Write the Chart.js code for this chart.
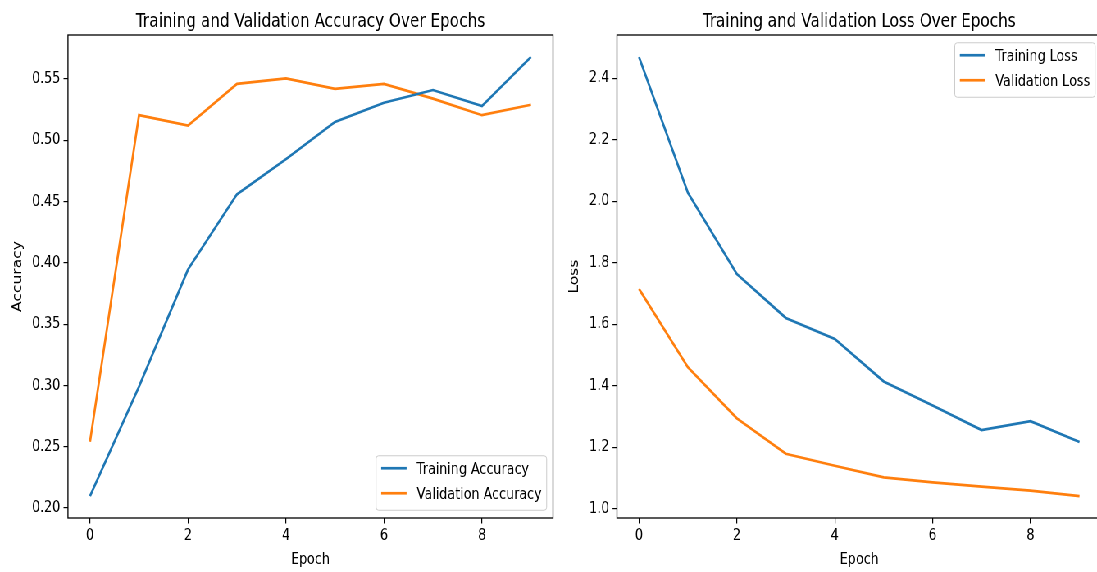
<!DOCTYPE html>
<html>
<head>
<meta charset="utf-8">
<title>Training curves</title>
<script src="https://cdn.jsdelivr.net/npm/chart.js@4.4.0/dist/chart.umd.min.js"></script>
<style>
  html, body { margin: 0; padding: 0; background: #fff; overflow: hidden; width: 1097px; height: 572px; }
  /* the figure is laid out wide and squeezed horizontally to its final width */
  #stage { position: absolute; left: 0; top: 0; width: 1338px; height: 572px;
           transform-origin: 0 0; transform: scaleX(0.81988); }
  #stage canvas { position: absolute; top: 0; }
</style>
</head>
<body>
<div id="stage">
  <canvas id="accChart" width="690" height="572" style="left:0;width:690px;height:572px"></canvas>
  <canvas id="lossChart" width="670" height="572" style="left:690px;width:670px;height:572px"></canvas>
</div>
<script>
// ---- data ----
const epochs = [0, 1, 2, 3, 4, 5, 6, 7, 8, 9];
const trainAccuracy = [0.2098, 0.299, 0.3946, 0.456, 0.4846, 0.515, 0.5306, 0.541, 0.528, 0.568];
const valAccuracy   = [0.254, 0.5205, 0.512, 0.546, 0.5505, 0.542, 0.546, 0.534, 0.5205, 0.529];
const trainLoss = [2.469, 2.027, 1.763, 1.6205, 1.552, 1.414, 1.336, 1.256, 1.285, 1.217];
const valLoss   = [1.715, 1.460, 1.294, 1.179, 1.140, 1.102, 1.086, 1.072, 1.059, 1.0415];
const epochTicks = [0, 2, 4, 6, 8];
const accuracyTicks = [0.20, 0.25, 0.30, 0.35, 0.40, 0.45, 0.50, 0.55];
const lossTicks = [1.0, 1.2, 1.4, 1.6, 1.8, 2.0, 2.2, 2.4];

// ---- styling ----
const BLUE = '#1f77b4';
const ORANGE = '#ff7f0e';
const FS = 15.5;          // tick / label / legend size
const TITLE_FS = 18.6;
const LINE_W = 2.7;
const FAMILY = "'DejaVu Sans', 'Liberation Sans', sans-serif";
Chart.defaults.font.family = FAMILY;
Chart.defaults.color = '#000';

function toPoints(ys) { return epochs.map((e, i) => ({ x: e, y: ys[i] })); }
function paddedRange(arrays) {
  const all = [].concat(...arrays);
  const lo = Math.min(...all), hi = Math.max(...all);
  const m = (hi - lo) * 0.05;
  return [lo - m, hi + m];
}
function fixedTicks(values) {
  return scale => { scale.ticks = values.map(v => ({ value: v })); };
}

// frame, panel title and legend box drawn on top of the plot
const panelDecor = {
  id: 'panelDecor',
  afterDraw(chart, args, opts) {
    const { ctx, chartArea: a } = chart;
    ctx.save();
    // axes frame
    ctx.strokeStyle = '#000';
    ctx.lineWidth = 1.3;
    ctx.strokeRect(a.left, a.top, a.right - a.left, a.bottom - a.top);
    // title centred over the plot area
    ctx.fillStyle = '#000';
    ctx.font = `${TITLE_FS}px ${FAMILY}`;
    ctx.textAlign = 'center';
    ctx.textBaseline = 'alphabetic';
    ctx.fillText(opts.title, (a.left + a.right) / 2, 27);
    // legend
    ctx.font = `${FS}px ${FAMILY}`;
    ctx.textAlign = 'left';
    const sets = chart.data.datasets;
    const pad = 6.2, handleLen = 31, textPad = 12.4, gap = 0.5 * FS;
    const textW = Math.max(...sets.map(d => ctx.measureText(d.label).width));
    const w = pad + handleLen + textPad + textW + pad;
    const h = 54.5;
    const right = a.right - gap;
    const left = right - w;
    const top = opts.legendAt === 'lower right' ? a.bottom - gap - h : a.top + gap;
    ctx.beginPath();
    ctx.roundRect(left, top, w, h, 3.1);
    ctx.fillStyle = 'rgba(255,255,255,0.8)';
    ctx.fill();
    ctx.strokeStyle = '#cccccc';
    ctx.lineWidth = 1;
    ctx.stroke();
    sets.forEach((d, i) => {
      const cy = top + 12.5 + i * 25;
      ctx.beginPath();
      ctx.moveTo(left + pad, cy);
      ctx.lineTo(left + pad + handleLen, cy);
      ctx.strokeStyle = d.borderColor;
      ctx.lineWidth = LINE_W;
      ctx.stroke();
      ctx.fillStyle = '#000';
      ctx.fillText(d.label, left + pad + handleLen + textPad, cy + 5.7);
    });
    ctx.restore();
  }
};

function makeOptions(cfg) {
  const tickFont = { size: FS, family: FAMILY };
  const axisGrid = { display: true, drawOnChartArea: false, drawTicks: true,
                     tickLength: 5.4, color: '#000', lineWidth: 1.2 };
  return {
    responsive: false,
    animation: false,
    layout: { padding: { left: 0, right: cfg.rightPad, top: 35, bottom: 0 } },
    elements: { point: { radius: 0 }, line: { tension: 0, borderWidth: LINE_W } },
    plugins: {
      legend: { display: false },
      tooltip: { enabled: false },
      panelDecor: { title: cfg.title, legendAt: cfg.legendAt }
    },
    scales: {
      x: {
        type: 'linear', min: -0.45, max: 9.45,
        afterBuildTicks: fixedTicks(epochTicks),
        afterFit: s => { s.height = 54; },
        grid: axisGrid,
        border: { display: false },
        ticks: { font: tickFont, color: '#000', padding: 3, maxRotation: 0,
                 callback: v => String(v) },
        title: { display: true, text: 'Epoch', color: '#000',
                 font: { size: FS, family: FAMILY, lineHeight: 1.2 },
                 padding: { top: 0, bottom: 3 } }
      },
      y: {
        type: 'linear', min: cfg.yRange[0], max: cfg.yRange[1],
        afterBuildTicks: fixedTicks(cfg.yTicks),
        afterFit: s => { s.width = cfg.yWidth; },
        grid: axisGrid,
        border: { display: false },
        ticks: { font: tickFont, color: '#000', padding: 4,
                 callback: v => v.toFixed(cfg.decimals) },
        title: { display: true, text: cfg.yTitle, color: '#000',
                 font: { size: FS, family: FAMILY, lineHeight: 1.2 },
                 padding: { top: cfg.yTitlePad, bottom: 0 } }
      }
    }
  };
}

new Chart(document.getElementById('accChart'), {
  type: 'line',
  data: {
    datasets: [
      { label: 'Training Accuracy', data: toPoints(trainAccuracy), borderColor: BLUE, backgroundColor: BLUE },
      { label: 'Validation Accuracy', data: toPoints(valAccuracy), borderColor: ORANGE, backgroundColor: ORANGE }
    ]
  },
  options: makeOptions({
    title: 'Training and Validation Accuracy Over Epochs',
    legendAt: 'lower right',
    yTitle: 'Accuracy',
    yTicks: accuracyTicks,
    decimals: 2,
    yRange: paddedRange([trainAccuracy, valAccuracy]),
    yWidth: 82.9,
    yTitlePad: 12.5,
    rightPad: 690 - 674.5
  }),
  plugins: [panelDecor]
});

new Chart(document.getElementById('lossChart'), {
  type: 'line',
  data: {
    datasets: [
      { label: 'Training Loss', data: toPoints(trainLoss), borderColor: BLUE, backgroundColor: BLUE },
      { label: 'Validation Loss', data: toPoints(valLoss), borderColor: ORANGE, backgroundColor: ORANGE }
    ]
  },
  options: makeOptions({
    title: 'Training and Validation Loss Over Epochs',
    legendAt: 'upper right',
    yTitle: 'Loss',
    yTicks: lossTicks,
    decimals: 1,
    yRange: paddedRange([trainLoss, valLoss]),
    yWidth: 62.5,
    yTitlePad: 1.6,
    rightPad: 670 - 653.5
  }),
  plugins: [panelDecor]
});
</script>
</body>
</html>
